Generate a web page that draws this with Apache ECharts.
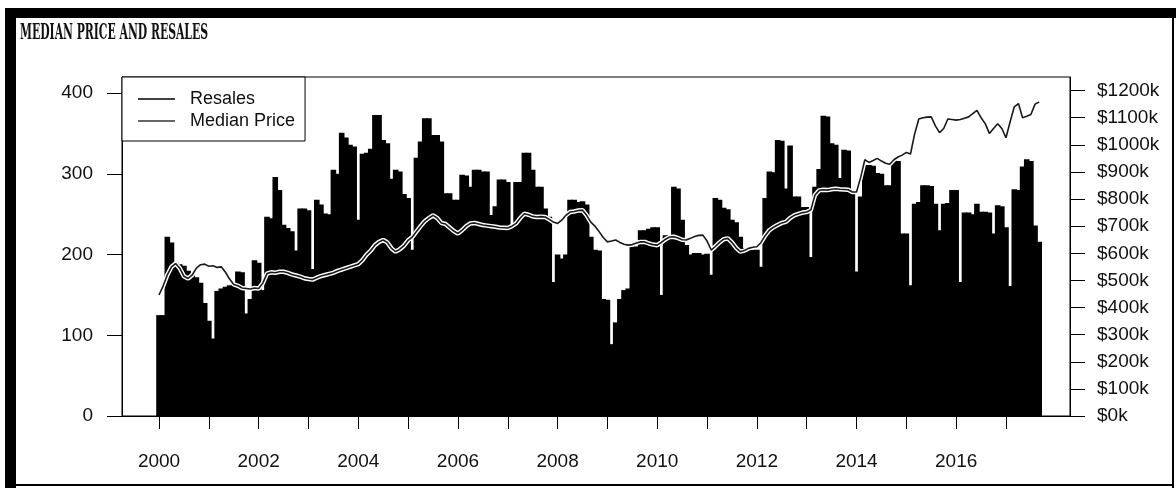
<!DOCTYPE html>
<html>
<head>
<meta charset="utf-8">
<script src="https://cdn.jsdelivr.net/npm/echarts@6/dist/echarts.min.js"></script>
<style>
  html, body { margin: 0; padding: 0; background: #fff; }
  #chart { position: absolute; left: 0; top: 0; width: 1176px; height: 488px; }
</style>
</head>
<body>
<div id="chart"></div>
<script>
// ---- data (monthly, Jan 2000 .. Sep 2017) ----
const startYear = 2000;
const monthCount = 213;
const months = [];
for (let i = 0; i < monthCount; i++) {
  const y = startYear + Math.floor(i / 12);
  const m = (i % 12) + 1;
  months.push(y + '-' + (m < 10 ? '0' + m : m));
}

const resales = [
  125,125,222,215,190,188,186,180,176,172,
  165,140,118,96,155,158,160,162,165,179,
  178,127,145,193,190,156,247,245,296,280,
  237,233,229,205,257,257,255,182,268,262,
  251,250,305,300,351,345,336,334,243,325,
  326,331,373,373,342,338,294,305,303,275,
  270,206,320,340,369,369,348,348,340,276,
  276,268,268,299,298,284,305,305,303,303,
  249,260,293,293,290,237,290,290,326,326,
  305,284,284,257,247,166,200,195,200,268,
  268,265,266,262,222,206,205,145,144,89,
  116,145,156,158,210,210,230,230,232,234,
  234,150,224,224,284,282,243,212,200,202,
  202,200,201,175,270,268,258,256,243,240,
  222,208,208,206,206,185,270,303,302,342,
  341,282,335,272,272,259,259,197,284,306,
  372,371,338,336,295,330,329,276,179,272,
  311,311,310,301,300,286,286,317,316,226,
  226,162,263,265,286,286,285,263,230,263,
  264,280,280,166,252,252,250,263,253,253,
  252,226,261,260,234,161,281,280,309,318,
  316,236,216
];

const medianPrice = [
  446,480,520,550,562,545,515,507,520,545,
  558,560,552,554,548,550,530,505,485,480,
  472,470,468,472,470,490,525,530,528,532,
  532,528,522,518,514,508,505,503,510,516,
  520,524,528,535,540,545,550,555,560,575,
  595,610,630,642,649,640,618,606,615,628,
  648,660,680,700,718,730,740,730,712,708,
  695,682,673,685,700,710,712,708,704,702,
  700,698,695,694,693,700,710,730,746,742,
  736,734,735,734,725,715,710,722,740,752,
  754,758,759,740,715,700,680,658,642,645,
  649,640,633,630,632,638,642,642,636,632,
  630,640,652,660,661,656,650,649,655,662,
  666,667,645,612,625,640,652,655,640,620,
  606,610,618,622,624,640,665,685,696,704,
  712,716,730,740,745,750,752,760,815,832,
  834,833,836,838,836,835,834,826,826,880,
  945,935,942,950,940,932,928,945,955,962,
  972,966,1040,1095,1100,1102,1103,1070,1045,1060,
  1095,1093,1091,1093,1098,1103,1115,1127,1100,1078,
  1042,1060,1078,1060,1026,1085,1140,1152,1100,1105,
  1112,1150,1158
];

const yearTicks = [2000,2001,2002,2003,2004,2005,2006,2007,2008,2009,2010,2011,2012,2013,2014,2015,2016,2017];
const yearLabels = [2000,2002,2004,2006,2008,2010,2012,2014,2016];
const resalesTicks = [0,100,200,300,400];
const priceTicks = [0,100,200,300,400,500,600,700,800,900,1000,1100,1200];

const titleText = 'MEDIAN PRICE AND RESALES';

// ---- build ----
function monthToYear(label) {
  const p = label.split('-');
  return Number(p[0]) + (Number(p[1]) - 1) / 12;
}
const resalesData = months.map((mo, i) => [monthToYear(mo), resales[i]]);
const priceData = months.map((mo, i) => [monthToYear(mo), medianPrice[i]]);

const FONT = '"Liberation Sans", Arial, Helvetica, sans-serif';
const titleFont = 'bold 22px "DejaVu Serif Condensed", "DejaVu Serif", serif';
const mctx = document.createElement('canvas').getContext('2d');
mctx.font = titleFont;
const titleScale = 188 / mctx.measureText(titleText).width;
const LINE_ICON = 'path://M0,0H37V1.5H0Z';

const chart = echarts.init(document.getElementById('chart'), null, { renderer: 'canvas' });

const option = {
  backgroundColor: '#fff',
  animation: false,
  graphic: [
    { type: 'rect', shape: { x: 5, y: 8, width: 1171, height: 10 }, style: { fill: '#000' } },
    { type: 'rect', shape: { x: 5, y: 8, width: 11, height: 480 }, style: { fill: '#000' } },
    { type: 'rect', shape: { x: 1172, y: 8, width: 2, height: 480 }, style: { fill: '#000' } },
    { type: 'rect', shape: { x: 5, y: 484, width: 1169, height: 2 }, style: { fill: '#000' } },
    {
      type: 'text', x: 20, y: 33, scaleX: titleScale,
      style: { text: titleText, font: titleFont, fill: '#111', align: 'left', verticalAlign: 'middle' }
    }
  ],
  grid: {
    left: 122, right: 106, top: 77, bottom: 72,
    show: true, borderColor: '#000', borderWidth: 1, backgroundColor: 'transparent'
  },
  legend: {
    left: 122, top: 77, orient: 'vertical',
    padding: [13, 10, 11, 16],
    itemGap: 4, itemWidth: 37, itemHeight: 14,
    borderColor: '#000', borderWidth: 1, backgroundColor: '#fff',
    symbolKeepAspect: true,
    formatter: '{a|{name}}',
    textStyle: {
      fontFamily: FONT, fontSize: 18, color: '#111',
      rich: { a: { fontFamily: FONT, fontSize: 18, color: '#111', padding: [0, 0, 0, 10] } }
    },
    data: [
      { name: 'Resales', icon: LINE_ICON, itemStyle: { color: '#000' } },
      { name: 'Median Price', icon: LINE_ICON, itemStyle: { color: '#333' } }
    ]
  },
  xAxis: {
    type: 'value', min: 1999.257, max: 2018.285,
    axisLine: { show: true, onZero: false, lineStyle: { color: '#000', width: 1 } },
    axisTick: { show: true, length: 13, lineStyle: { color: '#000', width: 1 }, customValues: yearTicks },
    axisLabel: {
      customValues: yearLabels, formatter: v => String(v),
      fontFamily: FONT, fontSize: 19, color: '#111', margin: 36
    },
    splitLine: { show: false }
  },
  yAxis: [
    {
      type: 'value', min: 0, max: 420, position: 'left',
      axisLine: { show: true, lineStyle: { color: '#000', width: 1 } },
      axisTick: { show: true, length: 15, lineStyle: { color: '#000' }, customValues: resalesTicks },
      axisLabel: { customValues: resalesTicks, fontFamily: FONT, fontSize: 19, color: '#111', margin: 29, formatter: v => String(v) },
      splitLine: { show: false }
    },
    {
      type: 'value', min: 0, max: 1250, position: 'right',
      axisLine: { show: true, lineStyle: { color: '#000', width: 1 } },
      axisTick: { show: true, length: 15, lineStyle: { color: '#000' }, customValues: priceTicks },
      axisLabel: { customValues: priceTicks, fontFamily: FONT, fontSize: 19, color: '#111', margin: 27, formatter: v => '$' + v + 'k' },
      splitLine: { show: false }
    }
  ],
  series: [
    {
      name: 'Resales', type: 'bar', yAxisIndex: 0, data: resalesData,
      barWidth: 5.6, itemStyle: { color: '#000' }, silent: true
    },
    {
      name: 'Median Price halo', type: 'line', yAxisIndex: 1, data: priceData,
      symbol: 'none', silent: true, lineStyle: { color: '#fff', width: 4.5 }
    },
    {
      name: 'Median Price', type: 'line', yAxisIndex: 1, data: priceData,
      symbol: 'none', lineStyle: { color: '#1a1a1a', width: 1.6 }, itemStyle: { color: '#1a1a1a' }
    }
  ]
};
chart.setOption(option);
</script>
</body>
</html>
